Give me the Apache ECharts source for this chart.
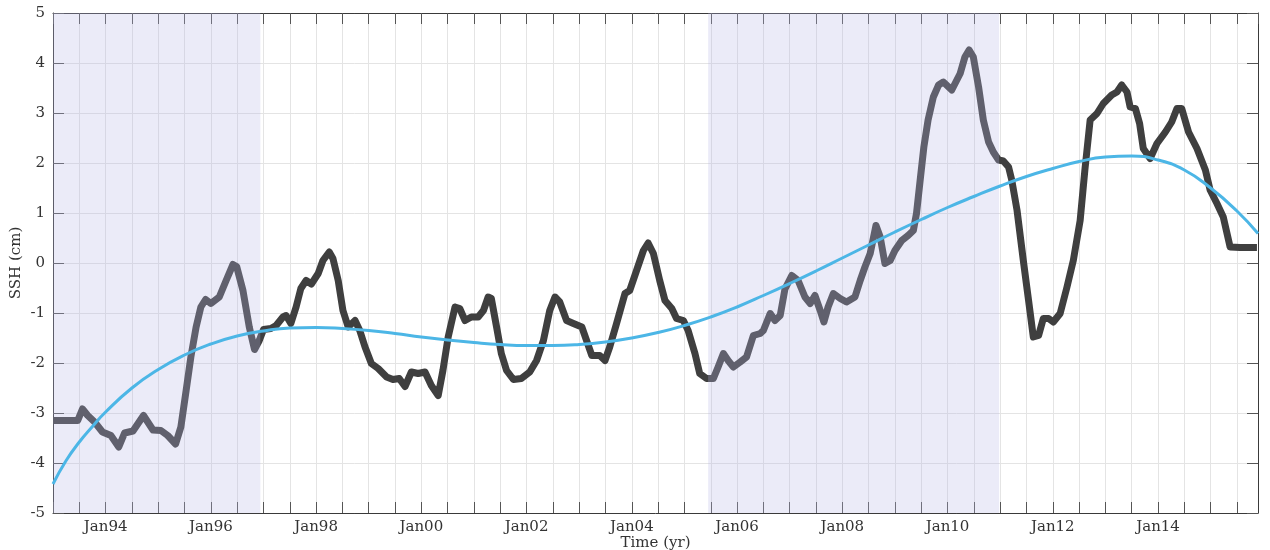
<!DOCTYPE html>
<html>
<head>
<meta charset="utf-8">
<script src="https://cdn.jsdelivr.net/npm/echarts@6/dist/echarts.min.js"></script>
<style>html,body{margin:0;padding:0;background:#fff}#c{width:1270px;height:550px}</style>
</head>
<body>
<div id="c"></div>
<script>
// SSH time series (decimal year, cm)
const sshYears = [1993.00,1993.47,1993.56,1993.66,1993.79,1993.94,1994.10,1994.25,1994.36,1994.52,1994.72,1994.90,1995.05,1995.18,1995.33,1995.43,1995.53,1995.62,1995.72,1995.81,1995.90,1996.00,1996.16,1996.29,1996.42,1996.49,1996.61,1996.73,1996.83,1996.92,1997.00,1997.14,1997.24,1997.37,1997.43,1997.52,1997.62,1997.71,1997.81,1997.91,1998.04,1998.13,1998.25,1998.32,1998.42,1998.51,1998.61,1998.74,1998.83,1998.93,1999.05,1999.18,1999.34,1999.46,1999.58,1999.69,1999.81,1999.94,2000.07,2000.19,2000.32,2000.41,2000.51,2000.64,2000.73,2000.83,2000.95,2001.08,2001.18,2001.27,2001.33,2001.43,2001.52,2001.62,2001.75,2001.90,2002.06,2002.19,2002.32,2002.44,2002.54,2002.63,2002.76,2002.89,2003.05,2003.14,2003.24,2003.39,2003.49,2003.58,2003.71,2003.87,2003.96,2004.09,2004.22,2004.31,2004.41,2004.53,2004.63,2004.76,2004.85,2004.98,2005.07,2005.20,2005.29,2005.42,2005.55,2005.64,2005.74,2005.83,2005.93,2006.06,2006.18,2006.31,2006.44,2006.50,2006.63,2006.72,2006.82,2006.91,2007.04,2007.16,2007.29,2007.39,2007.48,2007.58,2007.65,2007.73,2007.83,2007.96,2008.08,2008.24,2008.34,2008.43,2008.53,2008.64,2008.72,2008.81,2008.91,2009.00,2009.13,2009.25,2009.35,2009.41,2009.48,2009.55,2009.63,2009.73,2009.83,2009.92,2010.08,2010.24,2010.33,2010.41,2010.49,2010.59,2010.68,2010.78,2010.87,2010.97,2011.06,2011.16,2011.22,2011.32,2011.44,2011.54,2011.63,2011.73,2011.82,2011.92,2012.01,2012.14,2012.27,2012.39,2012.52,2012.61,2012.71,2012.84,2012.96,2013.12,2013.22,2013.31,2013.41,2013.47,2013.57,2013.65,2013.72,2013.85,2013.98,2014.14,2014.26,2014.36,2014.45,2014.58,2014.74,2014.90,2014.99,2015.12,2015.24,2015.37,2015.56,2015.88];
const sshValues = [-3.15,-3.15,-2.92,-3.05,-3.18,-3.38,-3.45,-3.68,-3.40,-3.36,-3.05,-3.34,-3.35,-3.45,-3.62,-3.28,-2.55,-1.88,-1.28,-0.88,-0.73,-0.81,-0.68,-0.35,-0.03,-0.07,-0.55,-1.28,-1.73,-1.55,-1.33,-1.31,-1.25,-1.08,-1.05,-1.21,-0.88,-0.51,-0.35,-0.42,-0.21,0.05,0.22,0.09,-0.35,-0.95,-1.28,-1.15,-1.35,-1.68,-2.01,-2.11,-2.28,-2.33,-2.31,-2.47,-2.18,-2.21,-2.18,-2.45,-2.65,-2.15,-1.48,-0.88,-0.91,-1.15,-1.08,-1.08,-0.95,-0.68,-0.71,-1.28,-1.81,-2.15,-2.33,-2.31,-2.18,-1.95,-1.55,-0.95,-0.68,-0.78,-1.15,-1.21,-1.28,-1.55,-1.85,-1.85,-1.95,-1.68,-1.21,-0.61,-0.55,-0.15,0.25,0.40,0.19,-0.35,-0.75,-0.91,-1.11,-1.15,-1.35,-1.81,-2.21,-2.31,-2.31,-2.08,-1.81,-1.95,-2.08,-1.98,-1.88,-1.45,-1.41,-1.35,-1.01,-1.15,-1.05,-0.52,-0.25,-0.35,-0.68,-0.81,-0.65,-0.95,-1.18,-0.88,-0.61,-0.71,-0.78,-0.68,-0.35,-0.08,0.19,0.75,0.52,-0.01,0.05,0.25,0.45,0.55,0.65,0.99,1.66,2.32,2.86,3.32,3.56,3.62,3.46,3.79,4.12,4.26,4.12,3.52,2.86,2.42,2.22,2.06,2.04,1.92,1.66,1.06,0.05,-0.75,-1.48,-1.45,-1.11,-1.11,-1.18,-1.01,-0.48,0.05,0.85,1.86,2.86,2.99,3.19,3.36,3.42,3.56,3.42,3.12,3.09,2.79,2.29,2.09,2.39,2.62,2.82,3.09,3.09,2.62,2.29,1.86,1.46,1.19,0.92,0.32,0.31,0.31];
// Trend curve (decimal year, cm)
const trendYears = [1993.0,1993.25,1993.5,1993.75,1994.0,1994.5,1995.0,1995.5,1996.0,1996.5,1997.0,1997.5,1998.0,1998.5,1999.0,1999.5,2000.0,2000.5,2001.0,2001.5,2002.0,2002.5,2003.0,2003.5,2004.0,2004.5,2005.0,2005.5,2006.0,2006.5,2007.0,2007.5,2008.0,2008.5,2009.0,2009.5,2010.0,2010.5,2011.0,2011.5,2012.0,2012.5,2013.0,2013.5,2014.0,2014.5,2015.0,2015.5,2015.9];
const trendValues = [-4.42,-3.95,-3.58,-3.27,-2.98,-2.50,-2.13,-1.84,-1.62,-1.46,-1.36,-1.30,-1.29,-1.31,-1.35,-1.41,-1.48,-1.54,-1.59,-1.63,-1.65,-1.65,-1.63,-1.58,-1.50,-1.39,-1.25,-1.08,-0.88,-0.65,-0.41,-0.16,0.10,0.36,0.62,0.87,1.11,1.33,1.54,1.73,1.89,2.03,2.12,2.14,2.06,1.86,1.50,1.04,0.59];
// Shaded periods (decimal year)
const shadeStart = [1993.0, 2005.45];
const shadeEnd = [1996.94, 2010.98];

const xMin = 1993, xMax = 2015.9;
const font = 'DejaVu Serif';
const txt = '#333333';

function xLabel(v){
  const r = Math.round(v);
  if (Math.abs(v - r) < 1e-6 && r % 2 === 0) return 'Jan' + String(r % 100).padStart(2,'0');
  return '';
}
const xBase = {
  type:'value', min:xMin, max:xMax, interval:0.5,
  axisLine:{show:true,onZero:false,lineStyle:{color:'#3a3a3a',width:1}},
  axisTick:{show:true,inside:true,length:11,lineStyle:{color:'#555',width:1}},
  splitLine:{show:false}
};
const yBase = {
  type:'value', min:-5, max:5, interval:1,
  axisLine:{show:true,onZero:false,lineStyle:{color:'#3a3a3a',width:1}},
  axisTick:{show:true,inside:true,length:11,lineStyle:{color:'#555',width:1}},
  splitLine:{show:false}
};

const chart = echarts.init(document.getElementById('c'), null, {renderer:'canvas'});
chart.setOption({
  animation:false,
  backgroundColor:'#ffffff',
  grid:{left:53,right:12,top:13,bottom:37,containLabel:false,outerBoundsMode:'none'},
  xAxis:[
    Object.assign({}, xBase, {position:'bottom',
      name:'Time (yr)', nameLocation:'middle', nameGap:23, nameMoveOverlap:false,
      nameTextStyle:{fontFamily:font,fontSize:15,color:txt},
      axisLabel:{show:true,formatter:xLabel,fontFamily:font,fontSize:15,color:txt,margin:7,showMinLabel:true,showMaxLabel:false,hideOverlap:false},
      splitLine:{show:true,lineStyle:{color:'#e4e4e4',width:1}}}),
    Object.assign({}, xBase, {position:'top',axisLabel:{show:false}})
  ],
  yAxis:[
    Object.assign({}, yBase, {position:'left',
      name:'SSH (cm)', nameLocation:'middle', nameGap:29, nameRotate:90, nameMoveOverlap:false,
      nameTextStyle:{fontFamily:font,fontSize:15,color:txt},
      axisLabel:{show:true,fontFamily:font,fontSize:15,color:txt,margin:8,formatter:v=>String(v)},
      splitLine:{show:true,lineStyle:{color:'#e4e4e4',width:1}}}),
    Object.assign({}, yBase, {position:'right',axisLabel:{show:false}})
  ],
  series:[
    {
      name:'SSH', type:'line', xAxisIndex:0, yAxisIndex:0, z:2,
      data: sshYears.map((x,i)=>[x, sshValues[i]]),
      showSymbol:false, smooth:false,
      lineStyle:{color:'#3f3f3f',width:7,join:'round',cap:'butt'}
    },
    {
      name:'shade', type:'custom', xAxisIndex:0, yAxisIndex:0, z:3, silent:true,
      data: shadeStart.map((s,i)=>[s, shadeEnd[i]]),
      renderItem: function(params, api){
        const p0 = api.coord([api.value(0), 5]);
        const p1 = api.coord([api.value(1), -5]);
        return {type:'rect', shape:{x:p0[0], y:p0[1], width:p1[0]-p0[0], height:p1[1]-p0[1]},
          style:{fill:'rgba(183,183,230,0.28)'}};
      }
    },
    {
      name:'Trend', type:'line', xAxisIndex:0, yAxisIndex:0, z:4,
      data: trendYears.map((x,i)=>[x, trendValues[i]]),
      showSymbol:false, smooth:true,
      lineStyle:{color:'#4cb6e6',width:3}
    }
  ]
});
</script>
</body>
</html>
